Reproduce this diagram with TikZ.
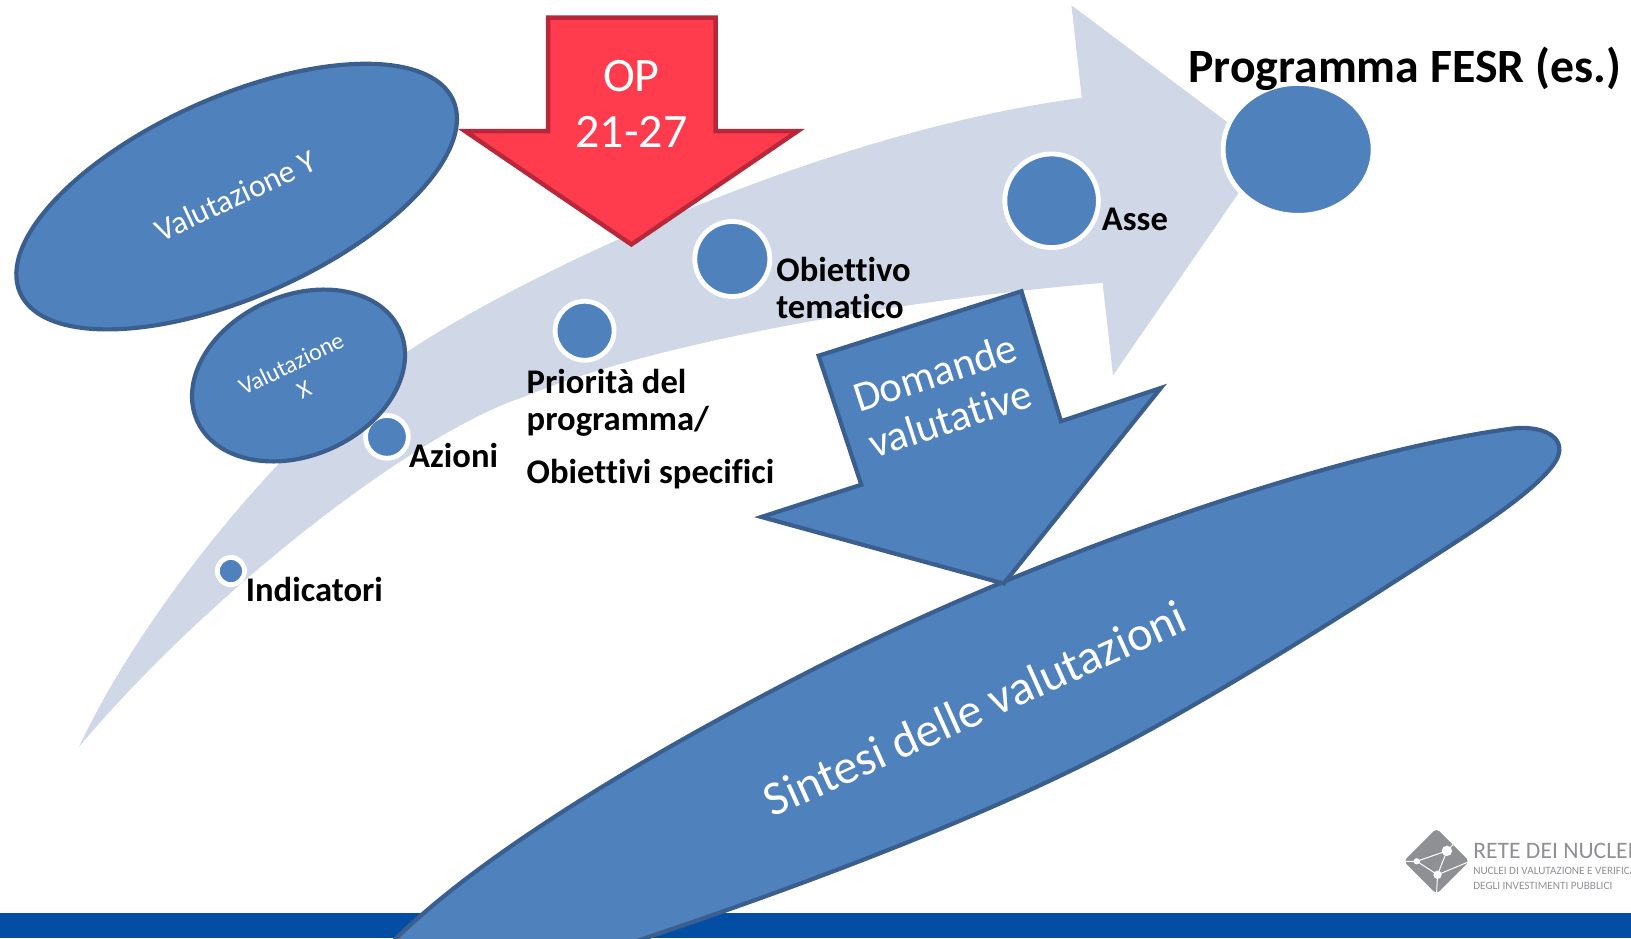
\documentclass[tikz,border=0pt]{standalone}
\usepackage{fontspec}
\setmainfont[Ligatures=CommonOff]{Carlito}
\usetikzlibrary{shapes.geometric}
\definecolor{blu}{HTML}{4F81BD}
\definecolor{bluedge}{HTML}{3A5F8E}
\definecolor{band}{HTML}{D0D8E8}
\definecolor{redfill}{HTML}{FF3B4E}
\definecolor{rededge}{HTML}{B9283A}
\definecolor{barblue}{HTML}{034EA2}
\definecolor{logogray}{HTML}{8E9094}
\newcommand{\fs}[1]{\fontsize{#1}{#1}\selectfont}
\tikzset{
  x=.5201pt,y=-.5201pt,
  oval/.style={ellipse,draw=bluedge,fill=blu,line width=2.1pt,inner sep=0pt,text=white,align=center},
  dot/.style={circle,draw=white,fill=blu,line width=2.4pt,inner sep=0pt},
  lab/.style={font=\fs{17.3}\bfseries,text=black,anchor=west,inner sep=0pt,align=left},
  shapeedge/.style={line width=2.1pt,line join=miter}
}
\begin{document}
\begin{tikzpicture}
\useasboundingbox (0,0) rectangle (1568,902);
\begin{scope}
\clip (0,0) rectangle (1568,902);
\fill[barblue] (0,878) rectangle (1568,902);
% big curved arrow
\fill[band] (76,718) .. controls (140,580) and (290,402) .. (392,338)
  .. controls (480,278) and (770,130) .. (1040,94)
  -- (1030,5) -- (1218,146) -- (1070,361) -- (1060,272)
  .. controls (900,285) and (640,324) .. (504,381.5)
  .. controls (400,415) and (200,570) .. cycle;
% logo
\node[diamond,aspect=1,fill=logogray,rounded corners=2pt,minimum width=33pt,minimum height=33pt,inner sep=0pt] (logo) at (1381,828) {};
\coordinate (la) at (1362,828);
\coordinate (lb) at (1391,818);
\coordinate (lc) at (1382,841);
\draw[white,line width=.5pt] (la)--(lb)--(lc)--(la) (logo.west)--(la) (lb)--(logo.north east) (lc)--(logo.east) (lc)--(logo.south);
\fill[white] (la) circle (3) (lb) circle (5) (lc) circle (4);
\node[anchor=west,inner sep=0pt,text=logogray,font=\fs{11.8}] (logoa) at (1416,818) {RETE DEI NUCLEI};
\node[anchor=west,inner sep=0pt,text=logogray,font=\fs{5.6}] (logob) at (1416,837) {NUCLEI DI VALUTAZIONE E VERIFICA};
\node[anchor=west,inner sep=0pt,text=logogray,font=\fs{5.6}] (logoc) at (1416,852) {DEGLI INVESTIMENTI PUBBLICI};
% circles
\node[ellipse,draw=white,fill=blu,line width=2.4pt,inner sep=0pt,minimum width=75pt,minimum height=66pt] (prog) at (1248,143.6) {};
\node[dot,minimum size=46.8pt] (asse) at (1011,193) {};
\node[dot,minimum size=37.5pt] (obt) at (704,249) {};
\node[dot,minimum size=29.5pt] (prio) at (562,318) {};
\node[dot,minimum size=21.4pt] (az) at (372,420) {};
\node[dot,minimum size=13.6pt] (ind) at (222,549) {};
% ovals
\node[oval,rotate=24,minimum width=237pt,minimum height=100pt] (valy) at (227.5,189) {};
\node[rotate=25,text=white,font=\fs{16}] (valyt) at (226.5,188) {Valutazione Y};
\node[oval,rotate=24,minimum width=111pt,minimum height=80pt] (valx) at (287,361) {};
\node[rotate=26,text=white,font=\fs{12},align=center] (valxt) at (286,362) {Valutazione\\[2.5pt]X};
% synthesis shape
\draw[draw=bluedge,fill=blu,line width=2.1pt] (381,902)
  .. controls (470,815) and (635,719) .. (775,647)
  .. controls (990,536) and (1280,435) .. (1454,412)
  .. controls (1480,409) and (1501,418) .. (1499,434)
  .. controls (1497,455) and (1443,493) .. (1402.8,519)
  .. controls (1300,586) and (1160,675) .. (1057.5,727)
  .. controls (927.5,793) and (760,855) .. (620,902)
  -- (500,945) -- (340,945) -- cycle;
\node[rotate=24.3,text=white,font=\fs{24.2}] (sintt) at (937,681) {Sintesi delle valutazioni};
% red arrow
\node[inner sep=0pt,minimum size=0pt] (redtip) at (607,235) {};
\draw[shapeedge,draw=rededge,fill=redfill,line width=2.2pt] (527,17) -- (688,17) -- (688,126) -- (767,126) -- (redtip.center) -- (447,126) -- (527,126) -- cycle;
\node[text=white,font=\fs{24},align=center,inner sep=0pt] (op) at (607,100) {OP\\[4pt]21-27};
% question arrow
\node[inner sep=0pt] (qtip) at (965,561) {};
\draw[shapeedge,draw=bluedge,fill=blu] (982,280) -- (1020,405) -- (1116,373) -- (qtip.center) -- (732,497) -- (828,466) -- (787,342) -- cycle;
\node[rotate=18,text=white,font=\fs{21.3},align=center,inner sep=0pt] (dom) at (906,380) {Domande\\[3pt]valutative};
% labels
\node[font=\fs{23.9}\bfseries,anchor=west,inner sep=0pt] (lprog) at (1142,66) {Programma FESR (es.)};
\node[lab] (lasse) at (1059,211) {Asse};
\node[lab] (lobt) at (746,277) {Obiettivo\\[1pt]tematico};
\node[lab] (lpr1) at (506,387) {Priorità del\\[1pt]programma/};
\node[lab] (lpr2) at (506,456) {Obiettivi specifici};
\node[lab] (laz) at (393,438) {Azioni};
\node[lab] (lind) at (236,567) {Indicatori};
\end{scope}
\end{tikzpicture}
\end{document}
